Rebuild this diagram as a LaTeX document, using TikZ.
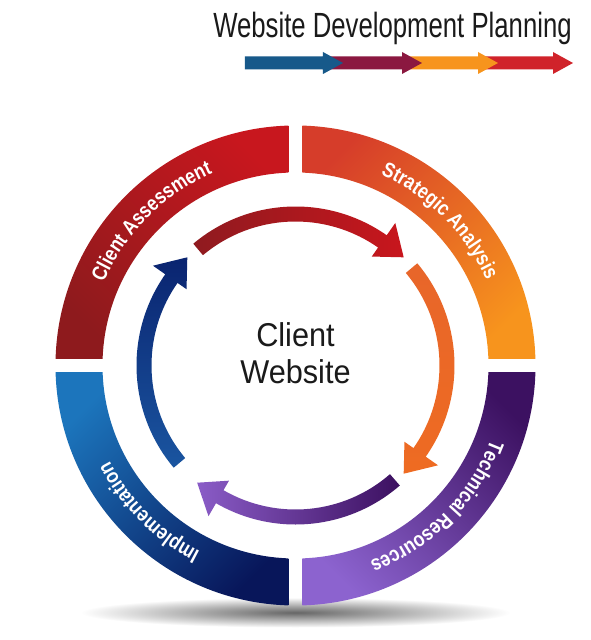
\documentclass[tikz,border=0pt]{standalone}
\usepackage{fontspec}
\setmainfont{Liberation Sans}
\newfontfamily\titlefont{Liberation Sans}[FakeStretch=0.735]
\newfontfamily\centerfont{Liberation Sans}[FakeStretch=0.93]
\newfontfamily\lblfam{Liberation Sans}[FakeStretch=0.84]
\newcommand\lblfont{\lblfam\bfseries\fontsize{21}{21}\selectfont}
\usetikzlibrary{decorations.text}
% ring colours
\definecolor{rRedA}{HTML}{8E1A1D}
\definecolor{rRedB}{HTML}{C8171E}
\definecolor{rOrA}{HTML}{D63D2A}
\definecolor{rOrB}{HTML}{F7941D}
\definecolor{rPuA}{HTML}{3C1161}
\definecolor{rPuB}{HTML}{8C63CF}
\definecolor{rBlA}{HTML}{1C75BC}
\definecolor{rBlB}{HTML}{08165A}
% inner arrow colours
\definecolor{aRedA}{HTML}{8F1A1F}
\definecolor{aRedB}{HTML}{C8161D}
\definecolor{aOrA}{HTML}{E8662A}
\definecolor{aOrB}{HTML}{F7941D}
\definecolor{aOrC}{HTML}{EE6B22}
\definecolor{aPuA}{HTML}{3C1060}
\definecolor{aPuB}{HTML}{8A5CC7}
\definecolor{aBlA}{HTML}{0A2470}
\definecolor{aBlB}{HTML}{2078C0}
\definecolor{aBlC}{HTML}{1A55A0}
% title arrow colours
\definecolor{tBlue}{HTML}{17598A}
\definecolor{tMag}{HTML}{8B1840}
\definecolor{tOr}{HTML}{F7941D}
\definecolor{tRed}{HTML}{D0232A}
\definecolor{ink}{HTML}{1A1A1A}
\tikzset{
  ringlabel/.style={decorate, decoration={text along path, text align=center, text color=white, text={|\lblfont|#1}}},
  centertext/.style={anchor=base, text=ink, font=\centerfont\fontsize{33}{33}\selectfont},
}
\begin{document}
\begin{tikzpicture}[x=1pt,y=1pt]
\useasboundingbox (-295.5,-274.5) rectangle (295.5,365.5);
\fill[white] (-295.5,-274.5) rectangle (295.5,365.5);

% title
\node[anchor=base, text=ink, font=\titlefont\fontsize{35}{35}\selectfont] (title) at (97,327.5) {Website Development Planning};
% title arrows (back to front)
\fill[tRed] (182.5,296) -- (257.5,296) -- (257.5,291.5) -- (277.5,302.5) -- (257.5,313.5) -- (257.5,309) -- (182.5,309) -- cycle;
\fill[tOr] (106.5,296) -- (182.5,296) -- (182.5,291.5) -- (202.5,302.5) -- (182.5,313.5) -- (182.5,309) -- (106.5,309) -- cycle;
\fill[tMag] (27.5,296) -- (106.5,296) -- (106.5,291.5) -- (126.5,302.5) -- (106.5,313.5) -- (106.5,309) -- (27.5,309) -- cycle;
\fill[tBlue] (-50.5,296) -- (27.5,296) -- (27.5,291.5) -- (47.5,302.5) -- (27.5,313.5) -- (27.5,309) -- (-50.5,309) -- cycle;

% shadow
\shade[inner color=black!60, outer color=white] (0,-247) ellipse [x radius=215pt, y radius=15pt];

% ring segments
\begin{scope}
\clip (-250,7) rectangle (-7,250);
\shade[top color=rRedB, bottom color=rRedA, shading angle=-45]
 (90:240pt) arc[start angle=90,end angle=180,radius=240pt] -- (180:193pt) arc[start angle=180,end angle=90,radius=193pt] -- cycle;
\end{scope}
\begin{scope}
\clip (7,7) rectangle (250,250);
\shade[top color=rOrA, bottom color=rOrB, shading angle=45]
 (0:240pt) arc[start angle=0,end angle=90,radius=240pt] -- (90:193pt) arc[start angle=90,end angle=0,radius=193pt] -- cycle;
\end{scope}
\begin{scope}
\clip (7,-7) rectangle (250,-250);
\shade[top color=rPuA, bottom color=rPuB, shading angle=-45]
 (270:240pt) arc[start angle=270,end angle=360,radius=240pt] -- (0:193pt) arc[start angle=360,end angle=270,radius=193pt] -- cycle;
\end{scope}
\begin{scope}
\clip (-250,-7) rectangle (-7,-250);
\shade[top color=rBlA, bottom color=rBlB, shading angle=45]
 (180:240pt) arc[start angle=180,end angle=270,radius=240pt] -- (270:193pt) arc[start angle=270,end angle=180,radius=193pt] -- cycle;
\end{scope}

% ring labels (clockwise paths, tops outward)
\path[ringlabel={Client Assessment}] (195:209pt) arc[start angle=195,end angle=75,radius=209pt];
\path[ringlabel={Strategic Analysis}] (105:209pt) arc[start angle=105,end angle=-15,radius=209pt];
\path[ringlabel={Technical Resources}] (15:209pt) arc[start angle=15,end angle=-105,radius=209pt];
\path[ringlabel={Implementation}] (-75:209pt) arc[start angle=-75,end angle=-195,radius=209pt];

% inner arrows
\shade[left color=aRedA, right color=aRedB]
 (130:159pt) arc[start angle=130,end angle=55,radius=159pt] -- (55:174pt) -- (45:153pt) -- (55:133pt) -- (55:144pt) arc[start angle=55,end angle=130,radius=144pt] -- cycle;
\shade[top color=aOrA, middle color=aOrB, bottom color=aOrC]
 (40:159pt) arc[start angle=40,end angle=-35,radius=159pt] -- (-35:174pt) -- (-45:153pt) -- (-35:133pt) -- (-35:144pt) arc[start angle=-35,end angle=40,radius=144pt] -- cycle;
\shade[left color=aPuB, right color=aPuA]
 (-49:159pt) arc[start angle=-49,end angle=-120,radius=159pt] -- (-120:174pt) -- (-130:153pt) -- (-120:133pt) -- (-120:144pt) arc[start angle=-120,end angle=-49,radius=144pt] -- cycle;
\shade[top color=aBlA, middle color=aBlB, bottom color=aBlC]
 (220:159pt) arc[start angle=220,end angle=145,radius=159pt] -- (145:174pt) -- (135:153pt) -- (145:133pt) -- (145:144pt) arc[start angle=145,end angle=220,radius=144pt] -- cycle;

% centre text
\node[centertext] (c1) at (0,18.5) {Client};
\node[centertext] (c2) at (0,-17.5) {Website};
\end{tikzpicture}
\end{document}
